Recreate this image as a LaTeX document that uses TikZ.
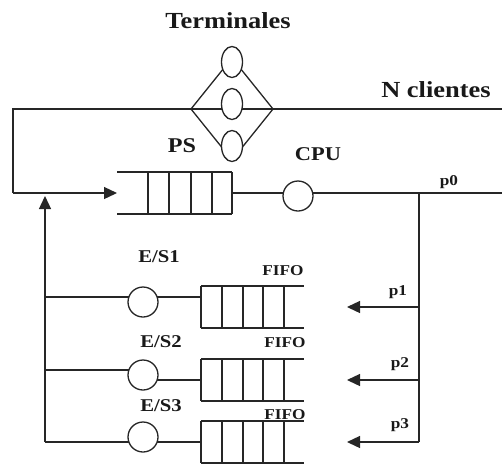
\documentclass[tikz,border=0pt]{standalone}
\usepackage{fontspec}
\setmainfont[FakeStretch=1.15]{Liberation Serif}
\usetikzlibrary{arrows.meta,backgrounds,shapes.geometric}
\begin{document}
\begin{tikzpicture}[x=1pt,y=-1pt,
 ln/.style={line width=1.3pt, black!85},
 srv/.style={circle, draw=black!85, line width=1.3pt, fill=white, minimum size=30pt, inner sep=0pt},
 term/.style={ellipse, draw=black!85, line width=1.3pt, fill=white, minimum width=21pt, minimum height=31pt, inner sep=0pt},
 tipa/.style={-{Triangle[length=13pt,width=12pt]}},
 lbl/.style={font=\bfseries\fontsize{#1}{#1}\selectfont, inner sep=0pt, anchor=base, text=black!90},
]
\useasboundingbox (0,0) rectangle (502,467);

% terminals
\node[term] (t1) at (232,62) {};
\node[term] (t2) at (232,104) {};
\node[term] (t3) at (232,146) {};
\coordinate (dl) at (191,109);
\coordinate (dr) at (273,109);
\coordinate (dt) at (232,58);
\coordinate (db) at (232,160);

% servers
\node[srv] (cpu) at (298,196) {};
\node[srv] (e1) at (143,302) {};
\node[srv] (e2) at (143,375) {};
\node[srv] (e3) at (143,437) {};

% coordinates
\coordinate (a0) at (13,109);
\coordinate (a1) at (502,109);
\coordinate (a2) at (13,193);
\coordinate (psin) at (117,193);
\coordinate (psout) at (232,193);
\coordinate (b1) at (502,193);
\coordinate (br0) at (419,193);
\coordinate (br1) at (419,307);
\coordinate (br2) at (419,380);
\coordinate (br3) at (419,442);
\coordinate (q1) at (347,307);
\coordinate (q2) at (347,380);
\coordinate (q3) at (347,442);
\coordinate (lb) at (45,442);
\coordinate (lt) at (45,196);
\coordinate (r1a) at (45,297);
\coordinate (r1b) at (201,297);
\coordinate (r2a) at (45,370);
\coordinate (r2m) at (143,370);
\coordinate (r2n) at (143,380);
\coordinate (r2b) at (201,380);
\coordinate (r3b) at (201,442);

\begin{scope}[on background layer]
 \draw[ln] (dl) -- (dt) -- (dr) -- (db) -- cycle;
 \draw[ln] (a1) -- (a0) -- (a2);
 \draw[ln] (psout) -- (b1);
 \draw[ln] (r1a) -- (r1b);
 \draw[ln] (r2a) -- (r2m);
 \draw[ln] (r2n) -- (r2b);
 \draw[ln] (lb) -- (r3b);
\end{scope}

\draw[ln,tipa] (a2) -- (psin);
\draw[ln] (br0) -- (br3);
\draw[ln,tipa] (br1) -- (q1);
\draw[ln,tipa] (br2) -- (q2);
\draw[ln,tipa] (br3) -- (q3);
\draw[ln,tipa] (lb) -- (lt);

% PS queue
\draw[ln] (117,172) -- (232,172) (117,214) -- (232,214);
\foreach \x in {148,169,191,212,232} \draw[ln] (\x,172) -- (\x,214);

% FIFO queues
\foreach \y in {307,380,442} {
 \draw[ln] (201,\y-21) -- (304,\y-21) (201,\y+21) -- (304,\y+21);
 \foreach \x in {201,222,243,263,284} \draw[ln] (\x,\y-21) -- (\x,\y+21);
}

% labels
\node[lbl=23] (lterm) at (228,28) {Terminales};
\node[lbl=23] (lncl) at (436,97) {N clientes};
\node[lbl=21] (lps) at (182,152) {PS};
\node[lbl=19.5] (lcpu) at (318,160) {CPU};
\node[lbl=15] (lp0) at (449,185) {p0};
\node[lbl=15] (lp1) at (398,295) {p1};
\node[lbl=15] (lp2) at (400,367) {p2};
\node[lbl=15] (lp3) at (400,428) {p3};
\node[lbl=18] (les1) at (159,262) {E/S1};
\node[lbl=18] (les2) at (161,347) {E/S2};
\node[lbl=18] (les3) at (161,411) {E/S3};
\node[lbl=15] (lf1) at (283,275) {FIFO};
\node[lbl=15] (lf2) at (285,347) {FIFO};
\node[lbl=15] (lf3) at (285,419) {FIFO};
\end{tikzpicture}
\end{document}
